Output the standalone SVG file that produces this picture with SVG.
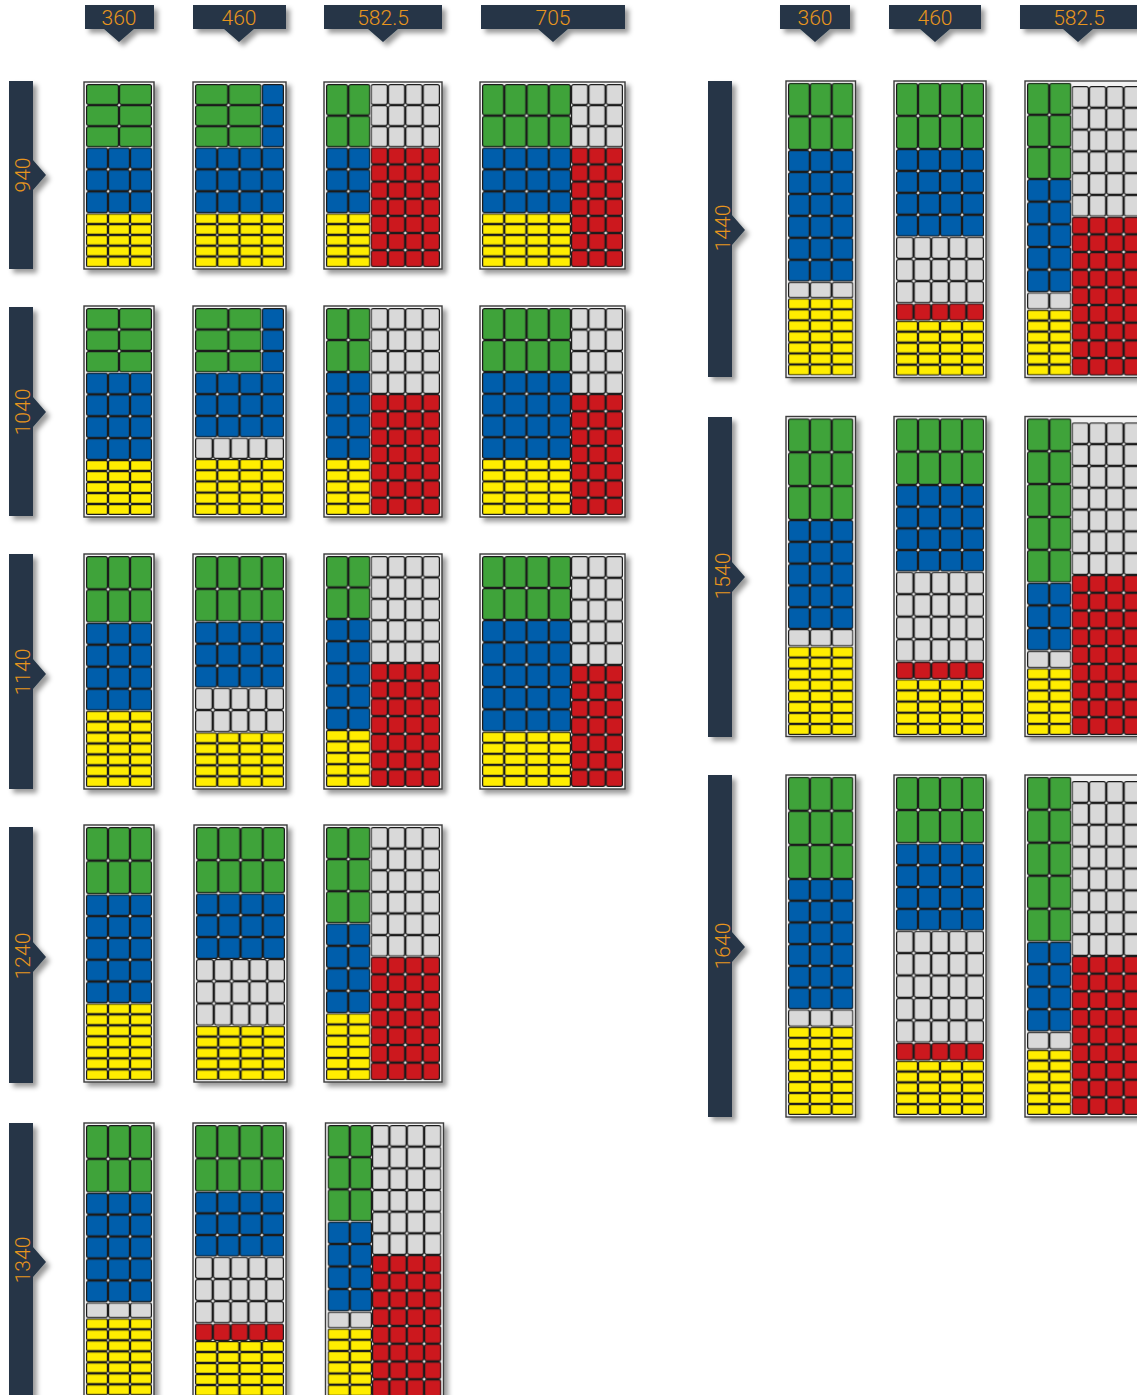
<svg xmlns="http://www.w3.org/2000/svg" width="1137" height="1395" viewBox="0 0 1137 1395">
<defs>
<style>
.t{font-family:Roboto,"Liberation Sans",sans-serif;font-weight:300;font-size:21px;fill:#e8951d;text-anchor:middle}
.d{fill:#253646;filter:url(#sh)}
.fr{fill:#f2f2f2;stroke:#3c3c3c;stroke-width:1.4;filter:url(#sh)}
.c{stroke:#1b1b1b;stroke-width:1.2}
</style>
<filter id="sh" x="-20%" y="-20%" width="150%" height="150%"><feDropShadow dx="4" dy="4" stdDeviation="2.5" flood-color="#000" flood-opacity="0.4"/></filter>
<pattern id="b" width="22" height="22" patternUnits="userSpaceOnUse"><rect class="c" x=".6" y=".6" width="20.8" height="20.8" rx="2" fill="#005eab"/></pattern>
<pattern id="gv" width="22" height="33" patternUnits="userSpaceOnUse"><rect class="c" x=".6" y=".6" width="20.8" height="31.8" rx="2" fill="#3fa33a"/></pattern>
<pattern id="gh" width="33" height="22" patternUnits="userSpaceOnUse"><rect class="c" x=".6" y=".6" width="31.8" height="20.8" rx="2" fill="#3fa33a"/></pattern>
<pattern id="y" width="22" height="11" patternUnits="userSpaceOnUse"><rect class="c" x=".6" y=".6" width="20.8" height="9.8" rx="1.2" fill="#ffed00"/></pattern>
<pattern id="l" width="17.4" height="22" patternUnits="userSpaceOnUse"><rect class="c" x=".6" y=".6" width="16.2" height="20.8" rx="2" fill="#d9d9d9"/></pattern>
<pattern id="ls" width="22" height="17" patternUnits="userSpaceOnUse"><rect class="c" x=".6" y=".6" width="20.8" height="15.8" rx="2" fill="#d9d9d9"/></pattern>
<pattern id="r" width="17.4" height="17.6" patternUnits="userSpaceOnUse"><rect class="c" x=".6" y=".6" width="16.2" height="16.4" rx="2" fill="#cc181e"/></pattern>
</defs>
<rect width="1137" height="1395" fill="#fff"/>

<g id="headers">
<g id="h-l360"><path class="d" d="M85 5H154V29H134L119 42L104 29H85Z"/><text class="t" x="119" y="25">360</text></g>
<g id="h-l460"><path class="d" d="M193 5H286V29H254L239 42L224 29H193Z"/><text class="t" x="239" y="25">460</text></g>
<g id="h-l582"><path class="d" d="M324 5H442V29H398L383 42L368 29H324Z"/><text class="t" x="383" y="25">582.5</text></g>
<g id="h-l705"><path class="d" d="M481 5H625V29H568L553 42L538 29H481Z"/><text class="t" x="553" y="25">705</text></g>
<g id="h-r360"><path class="d" d="M780 5H850V29H830L815 42L800 29H780Z"/><text class="t" x="815" y="25">360</text></g>
<g id="h-r460"><path class="d" d="M889 5H981V29H950L935 42L920 29H889Z"/><text class="t" x="935" y="25">460</text></g>
<g id="h-r582"><path class="d" d="M1020 5H1138V29H1093L1078 42L1063 29H1020Z"/><text class="t" x="1079" y="25">582.5</text></g>
</g>

<g id="rows">
<g id="r940"><path class="d" d="M9 81H33V160L46 175L33 190V269H9Z"/><text class="t" transform="translate(29.5 175) rotate(-90)">940</text></g>
<g id="r1040"><path class="d" d="M9 307H33V397L46 412L33 427V516H9Z"/><text class="t" transform="translate(29.5 412) rotate(-90)">1040</text></g>
<g id="r1140"><path class="d" d="M9 554H33V659L46 674L33 689V789H9Z"/><text class="t" transform="translate(29.5 672) rotate(-90)">1140</text></g>
<g id="r1240"><path class="d" d="M9 827H33V942L46 957L33 972V1083H9Z"/><text class="t" transform="translate(29.5 956) rotate(-90)">1240</text></g>
<g id="r1340"><path class="d" d="M9 1123H33V1247L46 1262L33 1277V1410H9Z"/><text class="t" transform="translate(29.5 1260) rotate(-90)">1340</text></g>
<g id="r1440"><path class="d" d="M708 81H732V215L745 230L732 245V377H708Z"/><text class="t" transform="translate(729.5 228) rotate(-90)">1440</text></g>
<g id="r1540"><path class="d" d="M708 417H732V562L745 577L732 592V737H708Z"/><text class="t" transform="translate(729.5 576) rotate(-90)">1540</text></g>
<g id="r1640"><path class="d" d="M708 775H732V932L745 947L732 962V1117H708Z"/><text class="t" transform="translate(729.5 946) rotate(-90)">1640</text></g>
</g>

<g id="g940-360"><rect class="fr" x="84" y="82" width="70" height="187"/>
<svg x="86" y="84" width="66" height="63.3" viewBox="0 0 66 66" preserveAspectRatio="none"><rect width="66" height="66" fill="url(#gh)"/></svg>
<svg x="86" y="147.3" width="66" height="66" viewBox="0 0 66 66" preserveAspectRatio="none"><rect width="66" height="66" fill="url(#b)"/></svg>
<svg x="86" y="213.3" width="66" height="54" viewBox="0 0 66 55" preserveAspectRatio="none"><rect width="66" height="55" fill="url(#y)"/></svg>
</g>
<g id="g940-460"><rect class="fr" x="193" y="82" width="93" height="187"/>
<svg x="195" y="84" width="66.7" height="63.3" viewBox="0 0 66 66" preserveAspectRatio="none"><rect width="66" height="66" fill="url(#gh)"/></svg>
<svg x="261.7" y="84" width="22.3" height="63.3" viewBox="0 0 22 66" preserveAspectRatio="none"><rect width="22" height="66" fill="url(#b)"/></svg>
<svg x="195" y="147.3" width="89" height="66" viewBox="0 0 88 66" preserveAspectRatio="none"><rect width="88" height="66" fill="url(#b)"/></svg>
<svg x="195" y="213.3" width="89" height="54" viewBox="0 0 88 55" preserveAspectRatio="none"><rect width="88" height="55" fill="url(#y)"/></svg>
</g>
<g id="g940-582"><rect class="fr" x="324" y="82" width="118" height="187"/>
<svg x="326" y="84" width="44.5" height="63.3" viewBox="0 0 44 66" preserveAspectRatio="none"><rect width="44" height="66" fill="url(#gv)"/></svg>
<svg x="370.5" y="84" width="69.5" height="63.3" viewBox="0 0 69.6 66" preserveAspectRatio="none"><rect width="69.6" height="66" fill="url(#l)"/></svg>
<svg x="326" y="147.3" width="44.5" height="66" viewBox="0 0 44 66" preserveAspectRatio="none"><rect width="44" height="66" fill="url(#b)"/></svg>
<svg x="326" y="213.3" width="44.5" height="54" viewBox="0 0 44 55" preserveAspectRatio="none"><rect width="44" height="55" fill="url(#y)"/></svg>
<svg x="370.5" y="147.3" width="69.5" height="120" viewBox="0 0 69.6 123.2" preserveAspectRatio="none"><rect width="69.6" height="123.2" fill="url(#r)"/></svg>
</g>
<g id="g940-705"><rect class="fr" x="480" y="82" width="145" height="187"/>
<svg x="482" y="84" width="89" height="63.3" viewBox="0 0 88 66" preserveAspectRatio="none"><rect width="88" height="66" fill="url(#gv)"/></svg>
<svg x="571" y="84" width="52" height="63.3" viewBox="0 0 52.2 66" preserveAspectRatio="none"><rect width="52.2" height="66" fill="url(#l)"/></svg>
<svg x="482" y="147.3" width="89" height="66" viewBox="0 0 88 66" preserveAspectRatio="none"><rect width="88" height="66" fill="url(#b)"/></svg>
<svg x="482" y="213.3" width="89" height="54" viewBox="0 0 88 55" preserveAspectRatio="none"><rect width="88" height="55" fill="url(#y)"/></svg>
<svg x="571" y="147.3" width="52" height="120" viewBox="0 0 52.2 123.2" preserveAspectRatio="none"><rect width="52.2" height="123.2" fill="url(#r)"/></svg>
</g>

<g id="g1040-360"><rect class="fr" x="84" y="306" width="70" height="211"/>
<svg x="86" y="308" width="66" height="64.5" viewBox="0 0 66 66" preserveAspectRatio="none"><rect width="66" height="66" fill="url(#gh)"/></svg>
<svg x="86" y="372.5" width="66" height="87.5" viewBox="0 0 66 88" preserveAspectRatio="none"><rect width="66" height="88" fill="url(#b)"/></svg>
<svg x="86" y="460" width="66" height="55" viewBox="0 0 66 55" preserveAspectRatio="none"><rect width="66" height="55" fill="url(#y)"/></svg>
</g>
<g id="g1040-460"><rect class="fr" x="193" y="306" width="93" height="211"/>
<svg x="195" y="308" width="66.7" height="64.5" viewBox="0 0 66 66" preserveAspectRatio="none"><rect width="66" height="66" fill="url(#gh)"/></svg>
<svg x="261.7" y="308" width="22.3" height="64.5" viewBox="0 0 22 66" preserveAspectRatio="none"><rect width="22" height="66" fill="url(#b)"/></svg>
<svg x="195" y="372.5" width="89" height="65" viewBox="0 0 88 66" preserveAspectRatio="none"><rect width="88" height="66" fill="url(#b)"/></svg>
<svg x="195" y="437.5" width="89" height="21.5" viewBox="0 0 87 22" preserveAspectRatio="none"><rect width="87" height="22" fill="url(#l)"/></svg>
<svg x="195" y="459" width="89" height="56" viewBox="0 0 88 55" preserveAspectRatio="none"><rect width="88" height="55" fill="url(#y)"/></svg>
</g>
<g id="g1040-582"><rect class="fr" x="324" y="306" width="118" height="211"/>
<svg x="326" y="308" width="44.5" height="64" viewBox="0 0 44 66" preserveAspectRatio="none"><rect width="44" height="66" fill="url(#gv)"/></svg>
<svg x="370.5" y="308" width="69.5" height="86" viewBox="0 0 69.6 88" preserveAspectRatio="none"><rect width="69.6" height="88" fill="url(#l)"/></svg>
<svg x="326" y="372" width="44.5" height="87" viewBox="0 0 44 88" preserveAspectRatio="none"><rect width="44" height="88" fill="url(#b)"/></svg>
<svg x="326" y="459" width="44.5" height="56" viewBox="0 0 44 55" preserveAspectRatio="none"><rect width="44" height="55" fill="url(#y)"/></svg>
<svg x="370.5" y="394" width="69.5" height="121" viewBox="0 0 69.6 123.2" preserveAspectRatio="none"><rect width="69.6" height="123.2" fill="url(#r)"/></svg>
</g>
<g id="g1040-705"><rect class="fr" x="480" y="306" width="145" height="211"/>
<svg x="482" y="308" width="89" height="64" viewBox="0 0 88 66" preserveAspectRatio="none"><rect width="88" height="66" fill="url(#gv)"/></svg>
<svg x="571" y="308" width="52" height="86" viewBox="0 0 52.2 88" preserveAspectRatio="none"><rect width="52.2" height="88" fill="url(#l)"/></svg>
<svg x="482" y="372" width="89" height="87" viewBox="0 0 88 88" preserveAspectRatio="none"><rect width="88" height="88" fill="url(#b)"/></svg>
<svg x="482" y="459" width="89" height="56" viewBox="0 0 88 55" preserveAspectRatio="none"><rect width="88" height="55" fill="url(#y)"/></svg>
<svg x="571" y="394" width="52" height="121" viewBox="0 0 52.2 123.2" preserveAspectRatio="none"><rect width="52.2" height="123.2" fill="url(#r)"/></svg>
</g>

<g id="g1140-360"><rect class="fr" x="84" y="554" width="70" height="235"/>
<svg x="86" y="556" width="66" height="66.7" viewBox="0 0 66 66" preserveAspectRatio="none"><rect width="66" height="66" fill="url(#gv)"/></svg>
<svg x="86" y="622.7" width="66" height="88" viewBox="0 0 66 88" preserveAspectRatio="none"><rect width="66" height="88" fill="url(#b)"/></svg>
<svg x="86" y="710.7" width="66" height="76.5" viewBox="0 0 66 77" preserveAspectRatio="none"><rect width="66" height="77" fill="url(#y)"/></svg>
</g>
<g id="g1140-460"><rect class="fr" x="193" y="554" width="93" height="235"/>
<svg x="195" y="556" width="89" height="65.7" viewBox="0 0 88 66" preserveAspectRatio="none"><rect width="88" height="66" fill="url(#gv)"/></svg>
<svg x="195" y="621.7" width="89" height="66" viewBox="0 0 88 66" preserveAspectRatio="none"><rect width="88" height="66" fill="url(#b)"/></svg>
<svg x="195" y="687.7" width="89" height="44.6" viewBox="0 0 87 44" preserveAspectRatio="none"><rect width="87" height="44" fill="url(#l)"/></svg>
<svg x="195" y="732.3" width="89" height="55" viewBox="0 0 88 55" preserveAspectRatio="none"><rect width="88" height="55" fill="url(#y)"/></svg>
</g>
<g id="g1140-582"><rect class="fr" x="324" y="554" width="118" height="235"/>
<svg x="326" y="556" width="44.5" height="63" viewBox="0 0 44 66" preserveAspectRatio="none"><rect width="44" height="66" fill="url(#gv)"/></svg>
<svg x="370.5" y="556" width="69.5" height="107" viewBox="0 0 69.6 110" preserveAspectRatio="none"><rect width="69.6" height="110" fill="url(#l)"/></svg>
<svg x="326" y="619" width="44.5" height="111" viewBox="0 0 44 110" preserveAspectRatio="none"><rect width="44" height="110" fill="url(#b)"/></svg>
<svg x="326" y="730" width="44.5" height="57" viewBox="0 0 44 55" preserveAspectRatio="none"><rect width="44" height="55" fill="url(#y)"/></svg>
<svg x="370.5" y="663" width="69.5" height="124" viewBox="0 0 69.6 123.2" preserveAspectRatio="none"><rect width="69.6" height="123.2" fill="url(#r)"/></svg>
</g>
<g id="g1140-705"><rect class="fr" x="480" y="554" width="145" height="235"/>
<svg x="482" y="556" width="89" height="64" viewBox="0 0 88 66" preserveAspectRatio="none"><rect width="88" height="66" fill="url(#gv)"/></svg>
<svg x="571" y="556" width="52" height="109" viewBox="0 0 52.2 110" preserveAspectRatio="none"><rect width="52.2" height="110" fill="url(#l)"/></svg>
<svg x="482" y="620" width="89" height="111.7" viewBox="0 0 88 110" preserveAspectRatio="none"><rect width="88" height="110" fill="url(#b)"/></svg>
<svg x="482" y="731.7" width="89" height="55.3" viewBox="0 0 88 55" preserveAspectRatio="none"><rect width="88" height="55" fill="url(#y)"/></svg>
<svg x="571" y="665" width="52" height="122" viewBox="0 0 52.2 123.2" preserveAspectRatio="none"><rect width="52.2" height="123.2" fill="url(#r)"/></svg>
</g>

<g id="g1240-360"><rect class="fr" x="84" y="825" width="70" height="257"/>
<svg x="86" y="827" width="66" height="67.3" viewBox="0 0 66 66" preserveAspectRatio="none"><rect width="66" height="66" fill="url(#gv)"/></svg>
<svg x="86" y="894.3" width="66" height="109" viewBox="0 0 66 110" preserveAspectRatio="none"><rect width="66" height="110" fill="url(#b)"/></svg>
<svg x="86" y="1003.3" width="66" height="77" viewBox="0 0 66 77" preserveAspectRatio="none"><rect width="66" height="77" fill="url(#y)"/></svg>
</g>
<g id="g1240-460"><rect class="fr" x="194" y="825" width="93" height="257"/>
<svg x="196" y="827" width="89" height="66.3" viewBox="0 0 88 66" preserveAspectRatio="none"><rect width="88" height="66" fill="url(#gv)"/></svg>
<svg x="196" y="893.3" width="89" height="65.7" viewBox="0 0 88 66" preserveAspectRatio="none"><rect width="88" height="66" fill="url(#b)"/></svg>
<svg x="196" y="959" width="89" height="66.7" viewBox="0 0 87 66" preserveAspectRatio="none"><rect width="87" height="66" fill="url(#l)"/></svg>
<svg x="196" y="1025.7" width="89" height="54.6" viewBox="0 0 88 55" preserveAspectRatio="none"><rect width="88" height="55" fill="url(#y)"/></svg>
</g>
<g id="g1240-582"><rect class="fr" x="324" y="825" width="118" height="257"/>
<svg x="326" y="827" width="44.5" height="96.3" viewBox="0 0 44 99" preserveAspectRatio="none"><rect width="44" height="99" fill="url(#gv)"/></svg>
<svg x="370.5" y="827" width="69.5" height="129.7" viewBox="0 0 69.6 132" preserveAspectRatio="none"><rect width="69.6" height="132" fill="url(#l)"/></svg>
<svg x="326" y="923.3" width="44.5" height="90" viewBox="0 0 44 88" preserveAspectRatio="none"><rect width="44" height="88" fill="url(#b)"/></svg>
<svg x="326" y="1013.3" width="44.5" height="67" viewBox="0 0 44 66" preserveAspectRatio="none"><rect width="44" height="66" fill="url(#y)"/></svg>
<svg x="370.5" y="956.7" width="69.5" height="123.6" viewBox="0 0 69.6 123.2" preserveAspectRatio="none"><rect width="69.6" height="123.2" fill="url(#r)"/></svg>
</g>

<g id="g1340-360"><rect class="fr" x="84" y="1123" width="70" height="290"/>
<svg x="86" y="1125" width="66" height="67.7" viewBox="0 0 66 66" preserveAspectRatio="none"><rect width="66" height="66" fill="url(#gv)"/></svg>
<svg x="86" y="1192.7" width="66" height="109.6" viewBox="0 0 66 110" preserveAspectRatio="none"><rect width="66" height="110" fill="url(#b)"/></svg>
<svg x="86" y="1302.3" width="66" height="16" viewBox="0 0 66 17" preserveAspectRatio="none"><rect width="66" height="17" fill="url(#ls)"/></svg>
<svg x="86" y="1318.3" width="66" height="88" viewBox="0 0 66 88" preserveAspectRatio="none"><rect width="66" height="88" fill="url(#y)"/></svg>
</g>
<g id="g1340-460"><rect class="fr" x="193" y="1123" width="93" height="290"/>
<svg x="195" y="1125" width="89" height="66.7" viewBox="0 0 88 66" preserveAspectRatio="none"><rect width="88" height="66" fill="url(#gv)"/></svg>
<svg x="195" y="1191.7" width="89" height="65" viewBox="0 0 88 66" preserveAspectRatio="none"><rect width="88" height="66" fill="url(#b)"/></svg>
<svg x="195" y="1256.7" width="89" height="66.6" viewBox="0 0 87 66" preserveAspectRatio="none"><rect width="87" height="66" fill="url(#l)"/></svg>
<svg x="195" y="1323.3" width="89" height="17.7" viewBox="0 0 87 17.6" preserveAspectRatio="none"><rect width="87" height="17.6" fill="url(#r)"/></svg>
<svg x="195" y="1341" width="89" height="55" viewBox="0 0 88 55" preserveAspectRatio="none"><rect width="88" height="55" fill="url(#y)"/></svg>
</g>
<g id="g1340-582"><rect class="fr" x="325.5" y="1123" width="118" height="290"/>
<svg x="327.5" y="1125" width="44.5" height="96.5" viewBox="0 0 44 99" preserveAspectRatio="none"><rect width="44" height="99" fill="url(#gv)"/></svg>
<svg x="372" y="1125" width="69.5" height="130" viewBox="0 0 69.6 132" preserveAspectRatio="none"><rect width="69.6" height="132" fill="url(#l)"/></svg>
<svg x="327.5" y="1221.5" width="44.5" height="90" viewBox="0 0 44 88" preserveAspectRatio="none"><rect width="44" height="88" fill="url(#b)"/></svg>
<svg x="327.5" y="1311.5" width="44.5" height="17" viewBox="0 0 44 17" preserveAspectRatio="none"><rect width="44" height="17" fill="url(#ls)"/></svg>
<svg x="327.5" y="1328.5" width="44.5" height="67.5" viewBox="0 0 44 66" preserveAspectRatio="none"><rect width="44" height="66" fill="url(#y)"/></svg>
<svg x="372" y="1255" width="69.5" height="142" viewBox="0 0 69.6 140.8" preserveAspectRatio="none"><rect width="69.6" height="140.8" fill="url(#r)"/></svg>
</g>

<g id="g1440-360"><rect class="fr" x="786" y="81" width="69.5" height="296.5"/>
<svg x="788" y="82.7" width="65.5" height="67.3" viewBox="0 0 66 66" preserveAspectRatio="none"><rect width="66" height="66" fill="url(#gv)"/></svg>
<svg x="788" y="150" width="65.5" height="131.7" viewBox="0 0 66 132" preserveAspectRatio="none"><rect width="66" height="132" fill="url(#b)"/></svg>
<svg x="788" y="281.7" width="65.5" height="16.6" viewBox="0 0 66 17" preserveAspectRatio="none"><rect width="66" height="17" fill="url(#ls)"/></svg>
<svg x="788" y="298.3" width="65.5" height="77.2" viewBox="0 0 66 77" preserveAspectRatio="none"><rect width="66" height="77" fill="url(#y)"/></svg>
</g>
<g id="g1440-460"><rect class="fr" x="894" y="81" width="92" height="296.5"/>
<svg x="896" y="82.7" width="88" height="66.3" viewBox="0 0 88 66" preserveAspectRatio="none"><rect width="88" height="66" fill="url(#gv)"/></svg>
<svg x="896" y="149" width="88" height="87.7" viewBox="0 0 88 88" preserveAspectRatio="none"><rect width="88" height="88" fill="url(#b)"/></svg>
<svg x="896" y="236.7" width="88" height="66.6" viewBox="0 0 87 66" preserveAspectRatio="none"><rect width="87" height="66" fill="url(#l)"/></svg>
<svg x="896" y="303.3" width="88" height="17.4" viewBox="0 0 87 17.6" preserveAspectRatio="none"><rect width="87" height="17.6" fill="url(#r)"/></svg>
<svg x="896" y="320.7" width="88" height="55" viewBox="0 0 88 55" preserveAspectRatio="none"><rect width="88" height="55" fill="url(#y)"/></svg>
</g>
<g id="g1440-582"><rect class="fr" x="1025" y="81" width="118" height="296.5"/>
<svg x="1027" y="82.7" width="44.5" height="96.3" viewBox="0 0 44 99" preserveAspectRatio="none"><rect width="44" height="99" fill="url(#gv)"/></svg>
<svg x="1027" y="179" width="44.5" height="113.3" viewBox="0 0 44 110" preserveAspectRatio="none"><rect width="44" height="110" fill="url(#b)"/></svg>
<svg x="1027" y="292.3" width="44.5" height="17.3" viewBox="0 0 44 17" preserveAspectRatio="none"><rect width="44" height="17" fill="url(#ls)"/></svg>
<svg x="1027" y="309.6" width="44.5" height="66" viewBox="0 0 44 66" preserveAspectRatio="none"><rect width="44" height="66" fill="url(#y)"/></svg>
<svg x="1071.5" y="86" width="69.5" height="130.7" viewBox="0 0 69.6 132" preserveAspectRatio="none"><rect width="69.6" height="132" fill="url(#l)"/></svg>
<svg x="1071.5" y="216.7" width="69.5" height="159" viewBox="0 0 69.6 158.4" preserveAspectRatio="none"><rect width="69.6" height="158.4" fill="url(#r)"/></svg>
</g>

<g id="g1540-360"><rect class="fr" x="786" y="416.5" width="69.5" height="320"/>
<svg x="788" y="418.3" width="65.5" height="101.7" viewBox="0 0 66 99" preserveAspectRatio="none"><rect width="66" height="99" fill="url(#gv)"/></svg>
<svg x="788" y="520" width="65.5" height="109" viewBox="0 0 66 110" preserveAspectRatio="none"><rect width="66" height="110" fill="url(#b)"/></svg>
<svg x="788" y="629" width="65.5" height="17.5" viewBox="0 0 66 17" preserveAspectRatio="none"><rect width="66" height="17" fill="url(#ls)"/></svg>
<svg x="788" y="646.5" width="65.5" height="88.5" viewBox="0 0 66 88" preserveAspectRatio="none"><rect width="66" height="88" fill="url(#y)"/></svg>
</g>
<g id="g1540-460"><rect class="fr" x="894" y="416.5" width="92" height="320"/>
<svg x="896" y="418.3" width="88" height="66.7" viewBox="0 0 88 66" preserveAspectRatio="none"><rect width="88" height="66" fill="url(#gv)"/></svg>
<svg x="896" y="485" width="88" height="86.7" viewBox="0 0 88 88" preserveAspectRatio="none"><rect width="88" height="88" fill="url(#b)"/></svg>
<svg x="896" y="571.7" width="88" height="90" viewBox="0 0 87 88" preserveAspectRatio="none"><rect width="87" height="88" fill="url(#l)"/></svg>
<svg x="896" y="661.7" width="88" height="17.6" viewBox="0 0 87 17.6" preserveAspectRatio="none"><rect width="87" height="17.6" fill="url(#r)"/></svg>
<svg x="896" y="679.3" width="88" height="55.7" viewBox="0 0 88 55" preserveAspectRatio="none"><rect width="88" height="55" fill="url(#y)"/></svg>
</g>
<g id="g1540-582"><rect class="fr" x="1025" y="416.5" width="118" height="320"/>
<svg x="1027" y="418.3" width="44.5" height="164.4" viewBox="0 0 44 165" preserveAspectRatio="none"><rect width="44" height="165" fill="url(#gv)"/></svg>
<svg x="1027" y="582.7" width="44.5" height="68" viewBox="0 0 44 66" preserveAspectRatio="none"><rect width="44" height="66" fill="url(#b)"/></svg>
<svg x="1027" y="650.7" width="44.5" height="17.6" viewBox="0 0 44 17" preserveAspectRatio="none"><rect width="44" height="17" fill="url(#ls)"/></svg>
<svg x="1027" y="668.3" width="44.5" height="66.7" viewBox="0 0 44 66" preserveAspectRatio="none"><rect width="44" height="66" fill="url(#y)"/></svg>
<svg x="1071.5" y="422.3" width="69.5" height="152.7" viewBox="0 0 69.6 154" preserveAspectRatio="none"><rect width="69.6" height="154" fill="url(#l)"/></svg>
<svg x="1071.5" y="575" width="69.5" height="160" viewBox="0 0 69.6 158.4" preserveAspectRatio="none"><rect width="69.6" height="158.4" fill="url(#r)"/></svg>
</g>

<g id="g1640-360"><rect class="fr" x="786" y="775" width="69.5" height="342"/>
<svg x="788" y="776.7" width="65.5" height="102.3" viewBox="0 0 66 99" preserveAspectRatio="none"><rect width="66" height="99" fill="url(#gv)"/></svg>
<svg x="788" y="879" width="65.5" height="130.3" viewBox="0 0 66 132" preserveAspectRatio="none"><rect width="66" height="132" fill="url(#b)"/></svg>
<svg x="788" y="1009.3" width="65.5" height="17.5" viewBox="0 0 66 17" preserveAspectRatio="none"><rect width="66" height="17" fill="url(#ls)"/></svg>
<svg x="788" y="1026.8" width="65.5" height="88.2" viewBox="0 0 66 88" preserveAspectRatio="none"><rect width="66" height="88" fill="url(#y)"/></svg>
</g>
<g id="g1640-460"><rect class="fr" x="894" y="775" width="92" height="342"/>
<svg x="896" y="776.7" width="88" height="66.6" viewBox="0 0 88 66" preserveAspectRatio="none"><rect width="88" height="66" fill="url(#gv)"/></svg>
<svg x="896" y="843.3" width="88" height="87.4" viewBox="0 0 88 88" preserveAspectRatio="none"><rect width="88" height="88" fill="url(#b)"/></svg>
<svg x="896" y="930.7" width="88" height="112" viewBox="0 0 87 110" preserveAspectRatio="none"><rect width="87" height="110" fill="url(#l)"/></svg>
<svg x="896" y="1042.7" width="88" height="18" viewBox="0 0 87 17.6" preserveAspectRatio="none"><rect width="87" height="17.6" fill="url(#r)"/></svg>
<svg x="896" y="1060.7" width="88" height="54.3" viewBox="0 0 88 55" preserveAspectRatio="none"><rect width="88" height="55" fill="url(#y)"/></svg>
</g>
<g id="g1640-582"><rect class="fr" x="1025" y="775" width="118" height="342"/>
<svg x="1027" y="776.7" width="44.5" height="165" viewBox="0 0 44 165" preserveAspectRatio="none"><rect width="44" height="165" fill="url(#gv)"/></svg>
<svg x="1027" y="941.7" width="44.5" height="90" viewBox="0 0 44 88" preserveAspectRatio="none"><rect width="44" height="88" fill="url(#b)"/></svg>
<svg x="1027" y="1031.7" width="44.5" height="18" viewBox="0 0 44 17" preserveAspectRatio="none"><rect width="44" height="17" fill="url(#ls)"/></svg>
<svg x="1027" y="1049.7" width="44.5" height="65.3" viewBox="0 0 44 66" preserveAspectRatio="none"><rect width="44" height="66" fill="url(#y)"/></svg>
<svg x="1071.5" y="781" width="69.5" height="175" viewBox="0 0 69.6 176" preserveAspectRatio="none"><rect width="69.6" height="176" fill="url(#l)"/></svg>
<svg x="1071.5" y="956" width="69.5" height="159" viewBox="0 0 69.6 158.4" preserveAspectRatio="none"><rect width="69.6" height="158.4" fill="url(#r)"/></svg>
</g>

<g id="connectors"></g>
</svg>
